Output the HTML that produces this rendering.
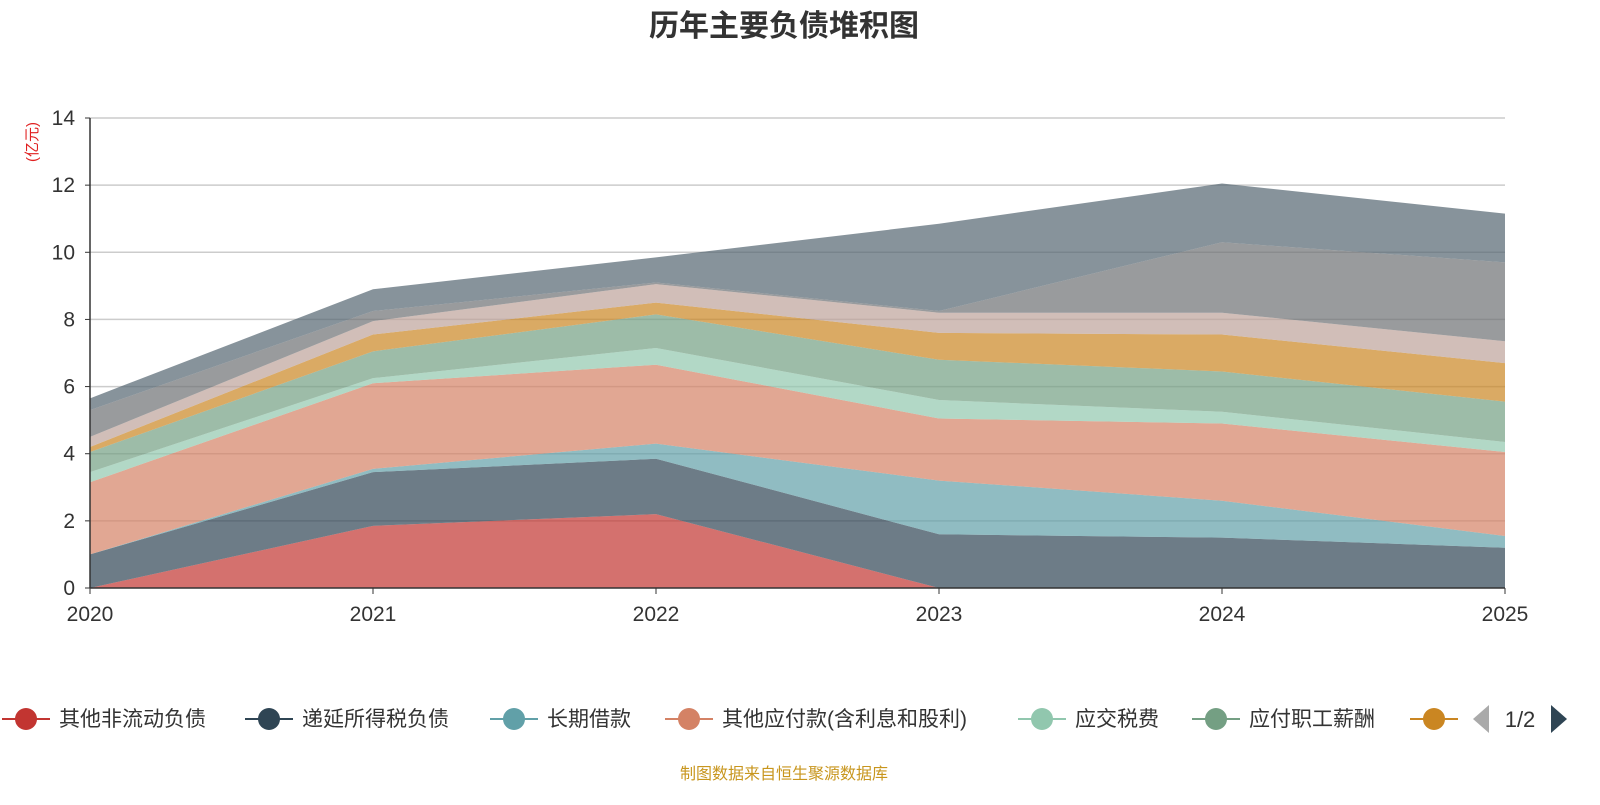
<!DOCTYPE html>
<html><head><meta charset="utf-8"><style>
body{margin:0;background:#fff;font-family:"Liberation Sans","Noto Sans CJK SC",sans-serif;}
</style></head><body>
<svg id="c" width="1600" height="800" xmlns="http://www.w3.org/2000/svg" style="font-family:'Liberation Sans','Noto Sans CJK SC',sans-serif">
<text x="784" y="36" text-anchor="middle" font-size="30" font-weight="bold" fill="#333">历年主要负债堆积图</text>
<text transform="translate(37,142) rotate(-90)" text-anchor="middle" font-size="15" fill="#e02020">(亿元)</text>
<g id="grid"></g><g id="areas"></g><g id="axes"></g><g id="legend"></g>
<text x="784" y="779" text-anchor="middle" font-size="16" fill="#c8961e">制图数据来自恒生聚源数据库</text>
</svg>
<script>
const years=["2020","2021","2022","2023","2024","2025"];
const yTicks=[0,2,4,6,8,10,12,14];
const seriesNames=["其他非流动负债","递延所得税负债","长期借款","其他应付款(含利息和股利)","应交税费","应付职工薪酬","应付账款","预收款项","短期借款","其他"];
const s1=[0,1.85,2.2,0,0,0];
const s2=[1.0,1.6,1.65,1.6,1.5,1.2];
const s3=[0,0.1,0.45,1.6,1.1,0.35];
const s4=[2.15,2.55,2.35,1.85,2.3,2.5];
const s5=[0.3,0.15,0.5,0.55,0.35,0.3];
const s6=[0.6,0.8,1.0,1.2,1.2,1.2];
const s7=[0.15,0.5,0.35,0.8,1.1,1.15];
const s8=[0.3,0.4,0.55,0.6,0.65,0.65];
const s9=[0.8,0.3,0.05,0.05,2.1,2.35];
const s10=[0.35,0.65,0.75,2.6,1.75,1.45];
const series=[s1,s2,s3,s4,s5,s6,s7,s8,s9,s10];
const colors=["#c23531","#2f4554","#61a0a8","#d48265","#91c7ae","#749f83","#ca8622","#bda29a","#6e7074","#546570"];
const NS="http://www.w3.org/2000/svg";
const X0=90,X1=1505,Y0=588,Y1=118,YMAX=14;
const xs=i=>X0+(X1-X0)*i/(years.length-1);
const ys=v=>Y0-(Y0-Y1)*v/YMAX;
function mk(t,a,p){const e=document.createElementNS(NS,t);for(const k in a)e.setAttribute(k,a[k]);p.appendChild(e);return e;}
const grid=document.getElementById('grid'),axes=document.getElementById('axes'),areas=document.getElementById('areas'),leg=document.getElementById('legend');
yTicks.forEach(v=>{
 if(v>0){const l=mk('line',{x1:X0,x2:X1,y1:ys(v),y2:ys(v),stroke:'#ccc','stroke-width':1.5},grid);
 
 }
 const t=mk('text',{x:75,y:ys(v)+7,'text-anchor':'end','font-size':21,fill:'#333'},axes);t.textContent=v;
 
 
 mk('line',{x1:X0-5,x2:X0,y1:ys(v),y2:ys(v),stroke:'#333'},axes);
});
let base=years.map(()=>0);
series.forEach((s,k)=>{
 const top=s.map((v,i)=>base[i]+v);
 let d='M'+years.map((_,i)=>xs(i)+','+ys(top[i])).join('L');
 for(let i=years.length-1;i>=0;i--)d+='L'+xs(i)+','+ys(base[i]);
 const p=mk('path',{d:d+'Z',fill:colors[k],'fill-opacity':0.7,stroke:'none'},areas);
 
 
 base=top;
});
mk('line',{x1:X0,x2:X0,y1:Y1,y2:Y0,stroke:'#333','stroke-width':1.5},axes);
mk('line',{x1:X0,x2:X1,y1:Y0,y2:Y0,stroke:'#333','stroke-width':1.5},axes);
years.forEach((y,i)=>{
 mk('line',{x1:xs(i),x2:xs(i),y1:Y0,y2:Y0+6,stroke:'#333'},axes);
 const t=mk('text',{x:xs(i),y:621,'text-anchor':'middle','font-size':21,fill:'#333'},axes);t.textContent=y;
 
 
});
const lx=[2,245,490,665,1018,1192,1410];
for(let k=0;k<7;k++){
 const g=mk('g',{},leg);
 
 
 mk('line',{x1:lx[k],x2:lx[k]+48,y1:719,y2:719,stroke:colors[k],'stroke-width':2},g);
 mk('circle',{cx:lx[k]+24,cy:719,r:11,fill:colors[k]},g);
 if(k<6){const t=mk('text',{x:lx[k]+57,y:726,'font-size':21,fill:'#333'},g);t.textContent=seriesNames[k];}
}
const pa=mk('polygon',{points:'1473,719 1489,705 1489,733',fill:'#aaa'},leg);

const pt=mk('text',{x:1520,y:727,'text-anchor':'middle','font-size':22,fill:'#333'},leg);pt.textContent='1/2';

const pn=mk('polygon',{points:'1567,719 1551,705 1551,733',fill:'#2f4554'},leg);

</script>
</body></html>
